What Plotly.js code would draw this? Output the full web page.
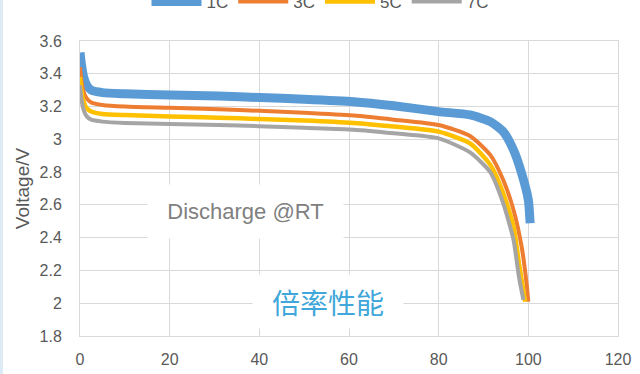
<!DOCTYPE html>
<html>
<head>
<meta charset="utf-8">
<script src="https://cdn.plot.ly/plotly-3.0.1.min.js"></script>
<style>
html,body{margin:0;padding:0;background:#fff;}
#chart{width:640px;height:374px;position:absolute;left:0;top:0;}
#strip{position:absolute;left:0;top:0;width:3px;height:374px;background:#dcebf6;}
</style>
</head>
<body>
<div id="chart"></div>
<div id="strip"></div>
<script>
// Series names
const seriesNames = ["1C", "3C", "5C", "7C"];
const seriesColors = ["#5b9bd5", "#ed7d31", "#ffc000", "#a5a5a5"];

// 1C
const x1C = [0, 0.3, 0.8, 1.5, 2.5, 5, 10, 20, 31, 40, 50, 61, 70, 80, 87, 91.5, 94.4, 96.7, 98.5, 100, 100.4];
const y1C = [3.53, 3.46, 3.38, 3.33, 3.30, 3.285, 3.278, 3.27, 3.264, 3.255, 3.245, 3.23, 3.205, 3.169, 3.149, 3.108, 3.047, 2.935, 2.793, 2.63, 2.488];
// 3C
const x3C = [0, 0.3, 0.8, 1.5, 2.5, 5, 10, 20, 31, 40, 50, 61, 70, 80, 87, 91.5, 94.4, 96.7, 98.5, 99.6, 100];
const y3C = [3.44, 3.36, 3.29, 3.25, 3.225, 3.21, 3.20, 3.192, 3.183, 3.174, 3.162, 3.145, 3.12, 3.087, 3.02, 2.905, 2.752, 2.569, 2.345, 2.122, 2.009];
// 5C
const x5C = [0, 0.3, 0.8, 1.5, 2.5, 5, 10, 20, 31, 40, 50, 61, 70, 80, 87, 91.5, 94.4, 96.7, 97.9, 99.3];
const y5C = [3.38, 3.30, 3.23, 3.19, 3.17, 3.155, 3.148, 3.14, 3.132, 3.124, 3.115, 3.10, 3.078, 3.047, 2.975, 2.845, 2.671, 2.467, 2.244, 2.009];
// 7C
const x7C = [0, 0.3, 0.8, 1.5, 2.5, 5, 10, 20, 31, 40, 50, 61, 70, 80, 87, 91.5, 94.4, 96.7, 97.9, 98.9];
const y7C = [3.33, 3.25, 3.18, 3.14, 3.12, 3.108, 3.10, 3.094, 3.087, 3.08, 3.07, 3.059, 3.037, 3.006, 2.92, 2.80, 2.610, 2.386, 2.162, 2.02];

const xs = [x1C, x3C, x5C, x7C];
const ys = [y1C, y3C, y5C, y7C];
const widths = [9, 4, 4.5, 4];

// Axis ticks
const xTicks = [0, 20, 40, 60, 80, 100, 120];
const yTicks = [1.8, 2, 2.2, 2.4, 2.6, 2.8, 3, 3.2, 3.4, 3.6];
const yTickText = ["1.8", "2", "2.2", "2.4", "2.6", "2.8", "3", "3.2", "3.4", "3.6"];

// Texts
const yTitle = "Voltage/V";
const note1 = "Discharge @RT";
const note2 = "倍率性能";

const traces = seriesNames.map((n, i) => ({
  type: "scatter",
  mode: "lines",
  name: n,
  x: xs[i],
  y: ys[i],
  line: {color: seriesColors[i], width: widths[i], shape: "spline", smoothing: 0.6},
  hoverinfo: "skip"
}));

const font = "Liberation Sans, Arial, sans-serif";

const layout = {
  width: 640,
  height: 374,
  margin: {l: 80, r: 22, t: 41, b: 38},
  paper_bgcolor: "#ffffff",
  plot_bgcolor: "#ffffff",
  font: {family: font, color: "#595959", size: 15},
  showlegend: true,
  legend: {
    orientation: "h",
    xref: "container", yref: "container",
    x: 0.5, y: 0.995, xanchor: "center", yanchor: "middle",
    font: {size: 17, color: "#595959"},
    itemwidth: 50,
    tracegroupgap: 0,
    bgcolor: "rgba(0,0,0,0)"
  },
  xaxis: {
    range: [0, 120],
    tickvals: xTicks,
    showgrid: true, gridcolor: "#d9d9d9", gridwidth: 1,
    showline: true, linecolor: "#d9d9d9", linewidth: 1, mirror: true,
    zeroline: false,
    ticks: "",
    ticklabelstandoff: 9,
    tickfont: {size: 16, color: "#595959"}
  },
  yaxis: {
    range: [1.8, 3.6],
    tickvals: yTicks,
    ticktext: yTickText,
    showgrid: true, gridcolor: "#d9d9d9", gridwidth: 1,
    showline: true, linecolor: "#d9d9d9", linewidth: 1, mirror: true,
    zeroline: false,
    ticks: "",
    ticklabelstandoff: 14,
    tickfont: {size: 16, color: "#595959"},
    title: {text: yTitle, font: {size: 19, color: "#595959"}, standoff: 4}
  },
  annotations: [
    {x: 36.9, y: 2.56, xref: "x", yref: "y", text: note1, showarrow: false,
     font: {size: 22, color: "#808080", family: font},
     bgcolor: "#ffffff", width: 195, height: 53, borderpad: 0},
    {x: 55.3, y: 2.011, xref: "x", yref: "y", text: note2, showarrow: false,
     font: {size: 28, color: "#3fa7d9", family: "Noto Sans CJK SC, sans-serif"},
     bgcolor: "#ffffff", width: 150, height: 53, borderpad: 0}
  ]
};

Plotly.newPlot("chart", traces, layout, {staticPlot: true, displayModeBar: false});
</script>
</body>
</html>
